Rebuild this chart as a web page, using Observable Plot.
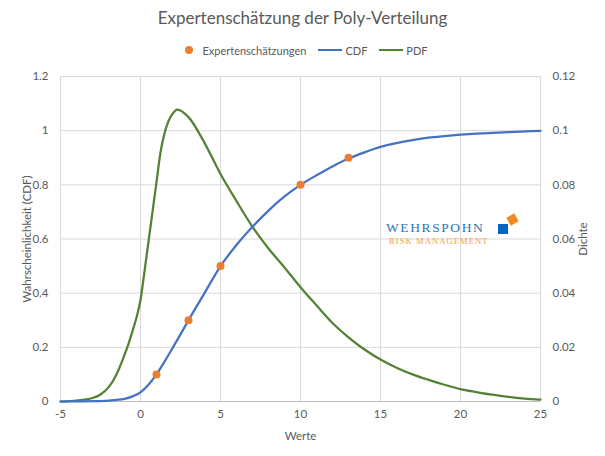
<!DOCTYPE html>
<html>
<head>
<meta charset="utf-8">
<script src="https://cdn.jsdelivr.net/npm/d3@7"></script>
<script src="https://cdn.jsdelivr.net/npm/@observablehq/plot@0.6"></script>
<style>
  body { margin: 0; background: #fff; font-family: Lato, "Open Sans", sans-serif; }
  #wrap { position: relative; width: 605px; height: 456px; overflow: hidden; }
  #title { height: 36px; line-height: 36px; text-align: center; font-size: 17px; color: #595959; }
  #legend { height: 28px; display: flex; justify-content: center; align-items: center; font-size: 11px; color: #595959; padding-left: 8px; }
  .li { display: flex; align-items: center; margin: 0 6px; white-space: nowrap; }
  .sw-dot { width: 8px; height: 8px; border-radius: 50%; margin-right: 9px; }
  .sw-line { width: 24px; height: 2.5px; margin-right: 3px; }
  #logo { position: absolute; left: 0; top: 0; width: 605px; height: 456px; pointer-events: none; }
  .wh { position: absolute; left: 386px; top: 221px; white-space: nowrap; font-family: "Liberation Serif", "DejaVu Serif", serif; font-size: 13.5px; letter-spacing: 1.6px; color: #2e75b6; line-height: 1; }
  .rm { position: absolute; left: 389px; top: 237px; white-space: nowrap; font-family: "Liberation Serif", "DejaVu Serif", serif; font-size: 8.6px; letter-spacing: 1.05px; color: #f4a04a; line-height: 1; }
  .sqb { position: absolute; left: 498px; top: 224px; width: 10px; height: 10px; background: #0563c1; }
  .sqo { position: absolute; left: 508px; top: 215px; width: 9px; height: 9px; background: #f08a1c; transform: rotate(-30deg); }
</style>
</head>
<body>
<div id="wrap">
  <div id="title">Expertenschätzung der Poly-Verteilung</div>
  <div id="legend"></div>
  <div id="chart"></div>
  <div id="logo">
    <div class="wh">WEHRSPOHN</div>
    <div class="rm">RISK MANAGEMENT</div>
    <div class="sqb"></div>
    <div class="sqo"></div>
  </div>
</div>
<script>
// ---- data ----
const expertX = [1, 3, 5, 10, 13];
const expertP = [0.1, 0.3, 0.5, 0.8, 0.9];

const cdfX = [-5, -4, -3, -2, -1.5, -1, -0.5, 0, 0.5, 1, 1.5, 2, 2.5, 3, 4, 5, 6, 7, 8, 9, 10, 11, 12, 13, 14, 15, 16, 17, 18, 19, 20, 21, 22, 23, 24, 25];
const cdfY = [0, 0.0003, 0.001, 0.003, 0.006, 0.010, 0.019, 0.034, 0.062, 0.100, 0.147, 0.197, 0.248, 0.300, 0.400, 0.500, 0.578, 0.645, 0.705, 0.757, 0.800, 0.835, 0.868, 0.897, 0.920, 0.940, 0.954, 0.965, 0.974, 0.980, 0.985, 0.989, 0.992, 0.995, 0.997, 0.999];

const pdfX = [-5, -4, -3.5, -3, -2.5, -2, -1.5, -1, -0.75, -0.5, -0.25, 0, 0.25, 0.5, 0.75, 1, 1.25, 1.5, 1.75, 2, 2.3, 3, 4, 5, 6, 7, 8, 9, 10, 11, 12, 13, 14, 15, 16, 17, 18, 19, 20, 21, 22, 23, 24, 25];
const pdfY = [0, 0.0003, 0.0007, 0.0013, 0.0026, 0.0052, 0.0100, 0.0172, 0.0213, 0.0260, 0.0310, 0.0375, 0.0480, 0.0590, 0.0700, 0.0810, 0.0920, 0.0990, 0.1035, 0.1062, 0.1078, 0.1050, 0.0955, 0.0840, 0.0740, 0.0645, 0.0565, 0.0495, 0.0422, 0.0355, 0.0290, 0.0237, 0.0192, 0.0155, 0.0125, 0.0100, 0.0080, 0.0062, 0.0046, 0.0035, 0.0025, 0.0017, 0.0011, 0.0007];

const xTicks = [-5, 0, 5, 10, 15, 20, 25];
const yTicks = [0, 0.2, 0.4, 0.6, 0.8, 1, 1.2];
const densityScale = 10; // right axis 0..0.12 maps onto left 0..1.2

const colCDF = "#4472c4", colPDF = "#548235", colPts = "#ed7d31";

// ---- legend ----
const legendItems = [
  {label: "Expertenschätzungen", type: "dot", color: colPts},
  {label: "CDF", type: "line", color: colCDF},
  {label: "PDF", type: "line", color: colPDF}
];
const lg = document.getElementById("legend");
for (const it of legendItems) {
  const d = document.createElement("div"); d.className = "li";
  const s = document.createElement("div");
  s.className = it.type === "dot" ? "sw-dot" : "sw-line";
  s.style.background = it.color;
  const t = document.createElement("span"); t.textContent = it.label;
  d.append(s, t); lg.append(d);
}

// ---- tables ----
const cdf = cdfX.map((x, i) => ({x, v: cdfY[i]}));
const pdf = pdfX.map((x, i) => ({x, v: pdfY[i]}));
const experts = expertX.map((x, i) => ({x, v: expertP[i]}));

const fmtL = d => String(+d.toFixed(1));
const fmtR = d => String(+(d / densityScale).toFixed(2));

const chart = Plot.plot({
  width: 605,
  height: 392,
  marginTop: 12,
  marginBottom: 55,
  marginLeft: 60,
  marginRight: 65,
  style: {fontFamily: "Lato, 'Open Sans', sans-serif", fontSize: "11.5px", color: "#595959", background: "white", overflow: "visible"},
  x: {domain: [-5, 25]},
  y: {domain: [0, 1.2]},
  marks: [
    Plot.gridX(xTicks, {stroke: "#d9d9d9", strokeOpacity: 1, strokeWidth: 1}),
    Plot.gridY(yTicks, {stroke: "#d9d9d9", strokeOpacity: 1, strokeWidth: 1}),
    Plot.ruleY([0], {stroke: "#bfbfbf", strokeWidth: 1}),
    Plot.axisX(xTicks, {tickSize: 0, tickPadding: 8, label: "Werte", labelAnchor: "center", labelArrow: "none", labelOffset: 38, tickFormat: d => String(d)}),
    Plot.axisY(yTicks, {anchor: "left", tickSize: 0, tickPadding: 12, tickFormat: fmtL, label: "Wahrscheinlichkeit (CDF)", labelAnchor: "center", labelArrow: "none", labelOffset: 38}),
    Plot.axisY(yTicks, {anchor: "right", tickSize: 0, tickPadding: 12, tickFormat: fmtR, label: "Dichte", labelAnchor: "center", labelArrow: "none", labelOffset: 46}),
    Plot.line(pdf, {x: "x", y: d => d.v * densityScale, stroke: colPDF, strokeWidth: 2.25, curve: "monotone-x"}),
    Plot.line(cdf, {x: "x", y: "v", stroke: colCDF, strokeWidth: 2.25, curve: "monotone-x"}),
    Plot.dot(experts, {x: "x", y: "v", fill: colPts, r: 4})
  ]
});
document.getElementById("chart").append(chart);
</script>
</body>
</html>
